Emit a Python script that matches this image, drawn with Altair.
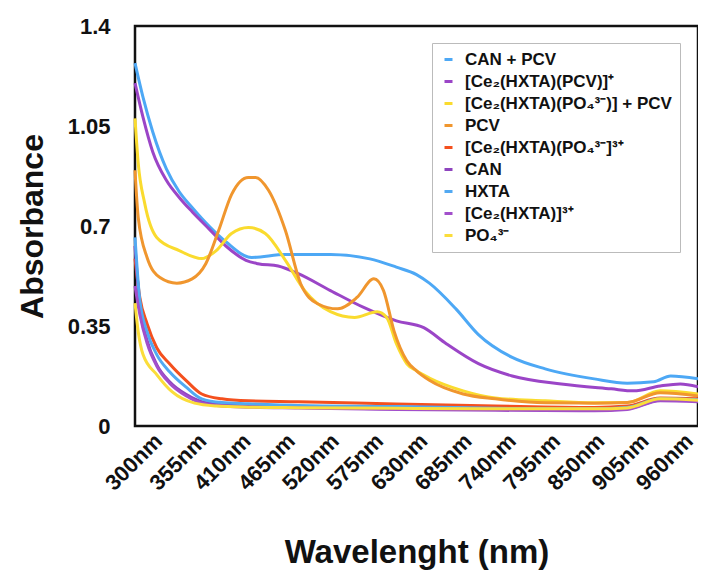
import altair as alt
import pandas as pd

series_names = [
    "CAN + PCV",
    "[Ce₂(HXTA)(PCV)]⁺",
    "[Ce₂(HXTA)(PO₄³⁻)] + PCV",
    "PCV",
    "[Ce₂(HXTA)(PO₄³⁻]³⁺",
    "CAN",
    "HXTA",
    "[Ce₂(HXTA)]³⁺",
    "PO₄³⁻",
]
series_colors = ["#4DA8F5", "#9B45C7", "#FADB2E", "#F0962E", "#F4501E",
                 "#8E44BE", "#52A9F2", "#A24FCB", "#FBDD3A"]

can_pcv_nm = [300, 310, 322, 339, 355, 371, 392, 413, 445, 487, 543, 592, 625, 650, 666, 699, 727, 769, 810, 871, 912, 945, 966, 1000]
can_pcv_abs = [1.27, 1.15, 1.03, 0.90, 0.82, 0.765, 0.70, 0.645, 0.59, 0.60, 0.60, 0.585, 0.556, 0.53, 0.50, 0.41, 0.32, 0.24, 0.20, 0.165, 0.15, 0.155, 0.175, 0.165]

ce_pcv_nm = [300, 310, 322, 339, 355, 371, 392, 413, 438, 453, 478, 503, 543, 585, 625, 659, 687, 727, 769, 830, 892, 920, 953, 978, 1000]
ce_pcv_abs = [1.2, 1.08, 0.96, 0.86, 0.80, 0.75, 0.69, 0.63, 0.58, 0.568, 0.56, 0.533, 0.474, 0.414, 0.368, 0.344, 0.288, 0.218, 0.175, 0.147, 0.13, 0.123, 0.14, 0.147, 0.137]

ce_po4_pcv_nm = [300, 304, 312, 327, 355, 383, 401, 420, 441, 462, 487, 511, 543, 573, 601, 613, 625, 638, 650, 666, 708, 748, 810, 871, 912, 953, 1000]
ce_po4_pcv_abs = [1.077, 0.92, 0.78, 0.66, 0.614, 0.586, 0.614, 0.674, 0.695, 0.674, 0.58, 0.474, 0.40, 0.38, 0.40, 0.38, 0.288, 0.218, 0.193, 0.168, 0.123, 0.098, 0.088, 0.081, 0.082, 0.123, 0.112]

pcv_nm = [300, 304, 315, 331, 352, 371, 388, 404, 420, 441, 450, 466, 487, 506, 527, 552, 576, 597, 609, 622, 638, 650, 666, 708, 748, 810, 871, 912, 953, 1000]
pcv_abs = [0.895, 0.73, 0.59, 0.52, 0.50, 0.515, 0.568, 0.684, 0.81, 0.87, 0.87, 0.825, 0.684, 0.498, 0.428, 0.41, 0.45, 0.515, 0.474, 0.333, 0.228, 0.193, 0.16, 0.112, 0.095, 0.081, 0.08, 0.082, 0.116, 0.105]

low_nm = [300, 306, 315, 327, 343, 364, 383, 408, 441, 503, 625, 748, 871, 912, 953, 1000]
ce_po4_abs = [0.586, 0.45, 0.358, 0.274, 0.218, 0.158, 0.112, 0.095, 0.088, 0.085, 0.077, 0.07, 0.065, 0.07, 0.098, 0.095]
can_abs = [0.63, 0.42, 0.30, 0.215, 0.155, 0.11, 0.085, 0.075, 0.07, 0.065, 0.06, 0.058, 0.055, 0.06, 0.09, 0.088]
hxta_abs = [0.66, 0.44, 0.33, 0.25, 0.19, 0.135, 0.095, 0.082, 0.078, 0.072, 0.068, 0.062, 0.06, 0.065, 0.095, 0.092]
ce_hxta_abs = [0.49, 0.39, 0.29, 0.21, 0.15, 0.105, 0.08, 0.07, 0.066, 0.063, 0.058, 0.055, 0.053, 0.058, 0.088, 0.085]

po4_nm = [300, 304, 310, 327, 346, 374, 401, 441, 503, 625, 748, 871, 912, 953, 1000]
po4_abs = [0.43, 0.33, 0.25, 0.18, 0.12, 0.08, 0.07, 0.066, 0.064, 0.062, 0.06, 0.06, 0.063, 0.095, 0.09]

x_tick_values = [300, 355, 410, 465, 520, 575, 630, 685, 740, 795, 850, 905, 960]
y_tick_values = [0, 0.35, 0.7, 1.05, 1.4]

series_data = [
    (series_names[0], can_pcv_nm, can_pcv_abs),
    (series_names[1], ce_pcv_nm, ce_pcv_abs),
    (series_names[2], ce_po4_pcv_nm, ce_po4_pcv_abs),
    (series_names[3], pcv_nm, pcv_abs),
    (series_names[4], low_nm, ce_po4_abs),
    (series_names[5], low_nm, can_abs),
    (series_names[6], low_nm, hxta_abs),
    (series_names[7], low_nm, ce_hxta_abs),
    (series_names[8], po4_nm, po4_abs),
]

rows = []
for order, (name, xs, ys) in enumerate(series_data):
    for x, y in zip(xs, ys):
        rows.append({"series": name, "order": order, "nm": x, "abs": y})
df = pd.DataFrame(rows)

FONT = "Liberation Sans"

chart = alt.Chart(df).mark_line(strokeWidth=3, interpolate="monotone").encode(
    x=alt.X("nm:Q",
            scale=alt.Scale(domain=[300, 1000], nice=False, zero=False),
            axis=alt.Axis(values=x_tick_values, labelExpr="datum.value + 'nm'",
                          labelAngle=-45, labelAlign="right", labelBaseline="top",
                          labelOffset=16, labelPadding=4,
                          labelOverlap=False, labelBound=False, labelFlush=False,
                          ticks=False, tickSize=0, grid=False, domain=False,
                          labelFont=FONT, labelFontSize=22, labelFontWeight="bold",
                          labelColor="#111111",
                          title="Wavelenght (nm)", titleFont=FONT, titleFontSize=33,
                          titleFontWeight="bold", titleColor="#111111",
                          titleY=136, titleBaseline="alphabetic")),
    y=alt.Y("abs:Q",
            scale=alt.Scale(domain=[0, 1.4], nice=False),
            axis=alt.Axis(values=y_tick_values,
                          labelExpr="format(datum.value, '.2~f')",
                          labelOverlap=False,
                          ticks=False, tickSize=0, grid=False, domain=False,
                          labelPadding=25,
                          labelFont=FONT, labelFontSize=22, labelFontWeight="bold",
                          labelColor="#111111",
                          title="Absorbance", titleFont=FONT, titleFontSize=32,
                          titleFontWeight="bold", titleColor="#111111",
                          titleX=-93, titleBaseline="alphabetic")),
    color=alt.Color("series:N",
                    scale=alt.Scale(domain=series_names, range=series_colors),
                    sort=series_names,
                    legend=alt.Legend(orient="none", legendX=297, legendY=17,
                                      title=None, symbolType="stroke",
                                      symbolSize=64, symbolStrokeWidth=3,
                                      labelOffset=8,
                                      labelFont=FONT, labelFontSize=17,
                                      labelFontWeight="bold", labelColor="#111111",
                                      labelLimit=400, rowPadding=4,
                                      padding=8, strokeColor="#BBBBBB",
                                      fillColor="white")),
    order=alt.Order("order:Q"),
    detail="series:N",
).properties(
    width=563, height=400,
    autosize=alt.AutoSizeParams(type="none"),
    padding={"left": 127, "top": 18, "right": 0, "bottom": 144},
    background="white",
).configure_view(
    stroke="#111111", strokeWidth=2.5
)

chart.save("out.html", embed_options={"renderer": "svg", "actions": False})
